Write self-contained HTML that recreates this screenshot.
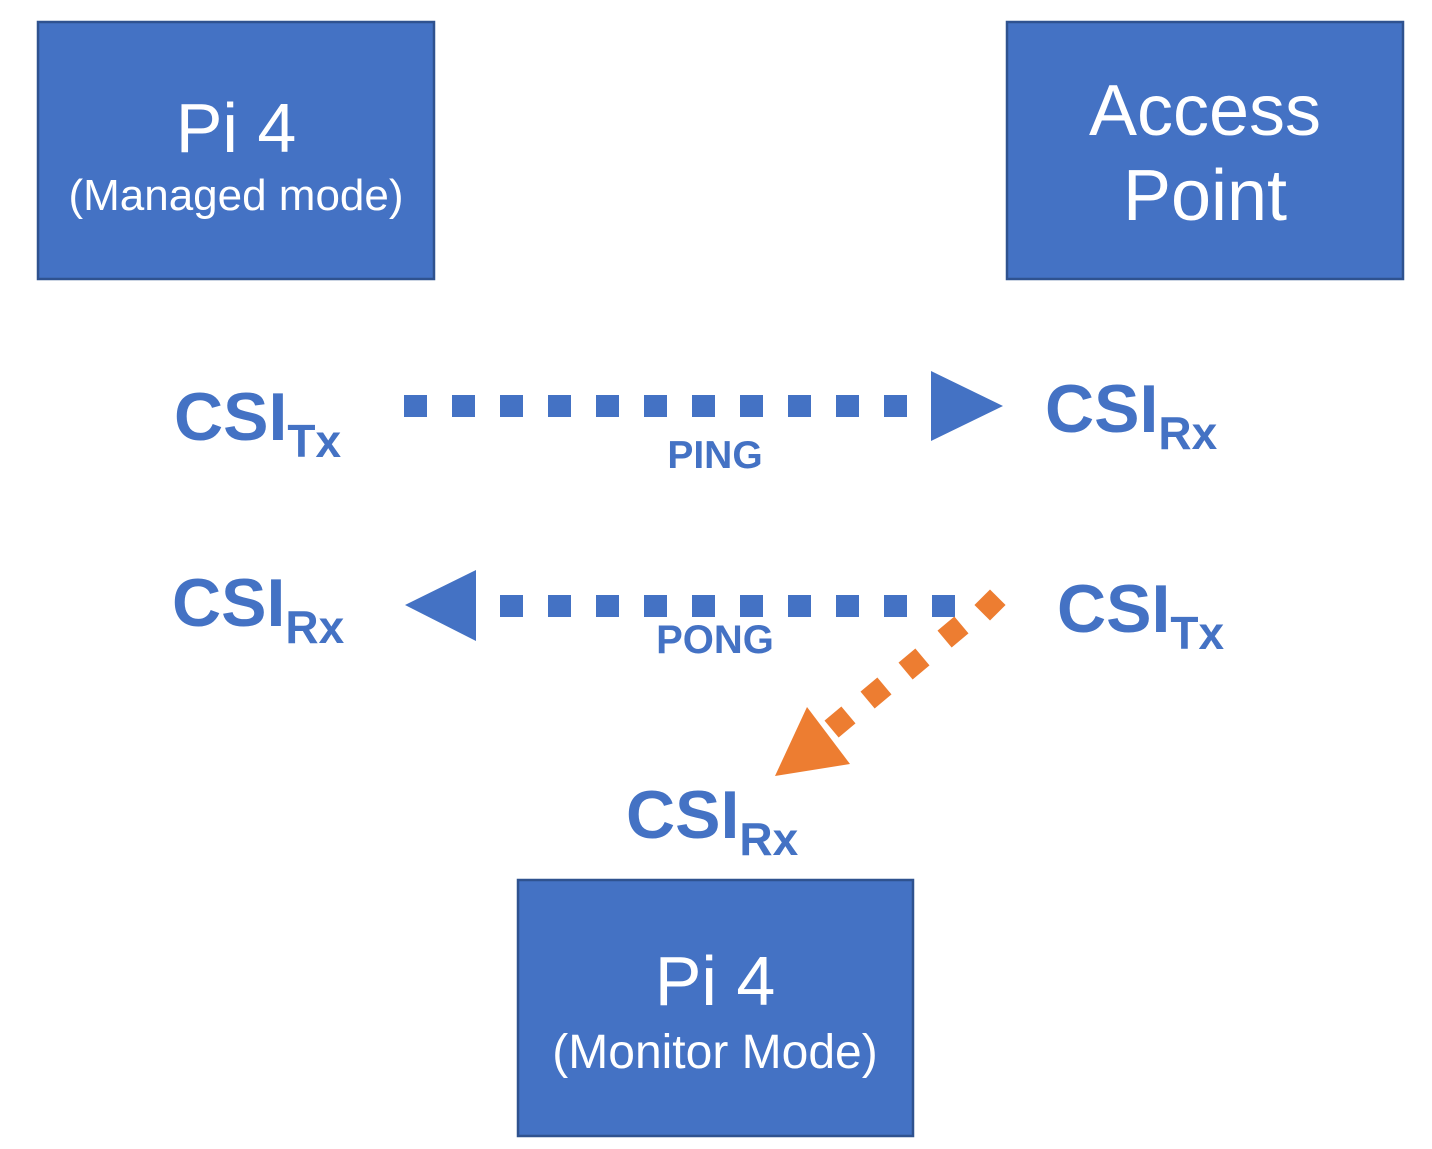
<!DOCTYPE html>
<html><head><meta charset="utf-8"><style>
html,body{margin:0;padding:0;background:#fff;}
svg{display:block;font-family:"Liberation Sans",Arial,sans-serif;}
</style></head><body>
<svg width="1432" height="1149" viewBox="0 0 1432 1149" xmlns="http://www.w3.org/2000/svg">
<g fill="#4472C4" stroke="#2F528F" stroke-width="2.5">
<rect x="38" y="22" width="396" height="257"/>
<rect x="1007" y="22" width="396" height="257"/>
<rect x="518" y="880" width="395" height="256"/>
</g>
<g fill="#fff" text-anchor="middle">
<text x="236" y="152" font-size="70">Pi 4</text>
<text x="236" y="210" font-size="44">(Managed mode)</text>
<text x="1205" y="135" font-size="72">Access</text>
<text x="1205" y="220" font-size="72">Point</text>
<text x="715" y="1005" font-size="70">Pi 4</text>
<text x="715" y="1068" font-size="48">(Monitor Mode)</text>
</g>
<g fill="#4472C4">
<rect x="404" y="395" width="23" height="22"/><rect x="452" y="395" width="23" height="22"/>
<rect x="500" y="395" width="23" height="22"/><rect x="548" y="395" width="23" height="22"/>
<rect x="596" y="395" width="23" height="22"/><rect x="644" y="395" width="23" height="22"/>
<rect x="692" y="395" width="23" height="22"/><rect x="740" y="395" width="23" height="22"/>
<rect x="788" y="395" width="23" height="22"/><rect x="836" y="395" width="23" height="22"/>
<rect x="884" y="395" width="23" height="22"/>
<polygon points="931,371 1003,406 931,441"/>
<polygon points="476,570 405,605 476,641"/>
<rect x="500" y="595" width="23" height="22"/><rect x="548" y="595" width="23" height="22"/>
<rect x="596" y="595" width="23" height="22"/><rect x="644" y="595" width="23" height="22"/>
<rect x="692" y="595" width="23" height="22"/><rect x="740" y="595" width="23" height="22"/>
<rect x="788" y="595" width="23" height="22"/><rect x="836" y="595" width="23" height="22"/>
<rect x="884" y="595" width="23" height="22"/><rect x="932" y="595" width="23" height="22"/>
<text x="715" y="468" font-size="39" font-weight="bold" text-anchor="middle">PING</text>
<text x="715" y="653" font-size="40" font-weight="bold" text-anchor="middle">PONG</text>
</g>
<g fill="#ED7D31">
<rect x="-11" y="-11" width="22" height="22" transform="translate(990,605) rotate(45)"/>
<rect x="-11" y="-11" width="22" height="22" transform="translate(953,632) rotate(50)"/>
<rect x="-11" y="-11" width="22" height="22" transform="translate(914,664) rotate(50)"/>
<rect x="-11" y="-11" width="22" height="22" transform="translate(876,693) rotate(50)"/>
<rect x="-11" y="-11" width="22" height="22" transform="translate(840,722) rotate(50)"/>
<polygon points="775,776 807,707 850,764"/>
</g>
<g fill="#4472C4" font-weight="bold">
<text x="174" y="440" font-size="68">CSI<tspan font-size="46" dy="17">Tx</tspan></text>
<text x="1045" y="432" font-size="68">CSI<tspan font-size="46" dy="17">Rx</tspan></text>
<text x="172" y="626" font-size="68">CSI<tspan font-size="46" dy="17">Rx</tspan></text>
<text x="1057" y="632" font-size="68">CSI<tspan font-size="46" dy="17">Tx</tspan></text>
<text x="626" y="838" font-size="68">CSI<tspan font-size="46" dy="17">Rx</tspan></text>
</g>
</svg>
</body></html>
